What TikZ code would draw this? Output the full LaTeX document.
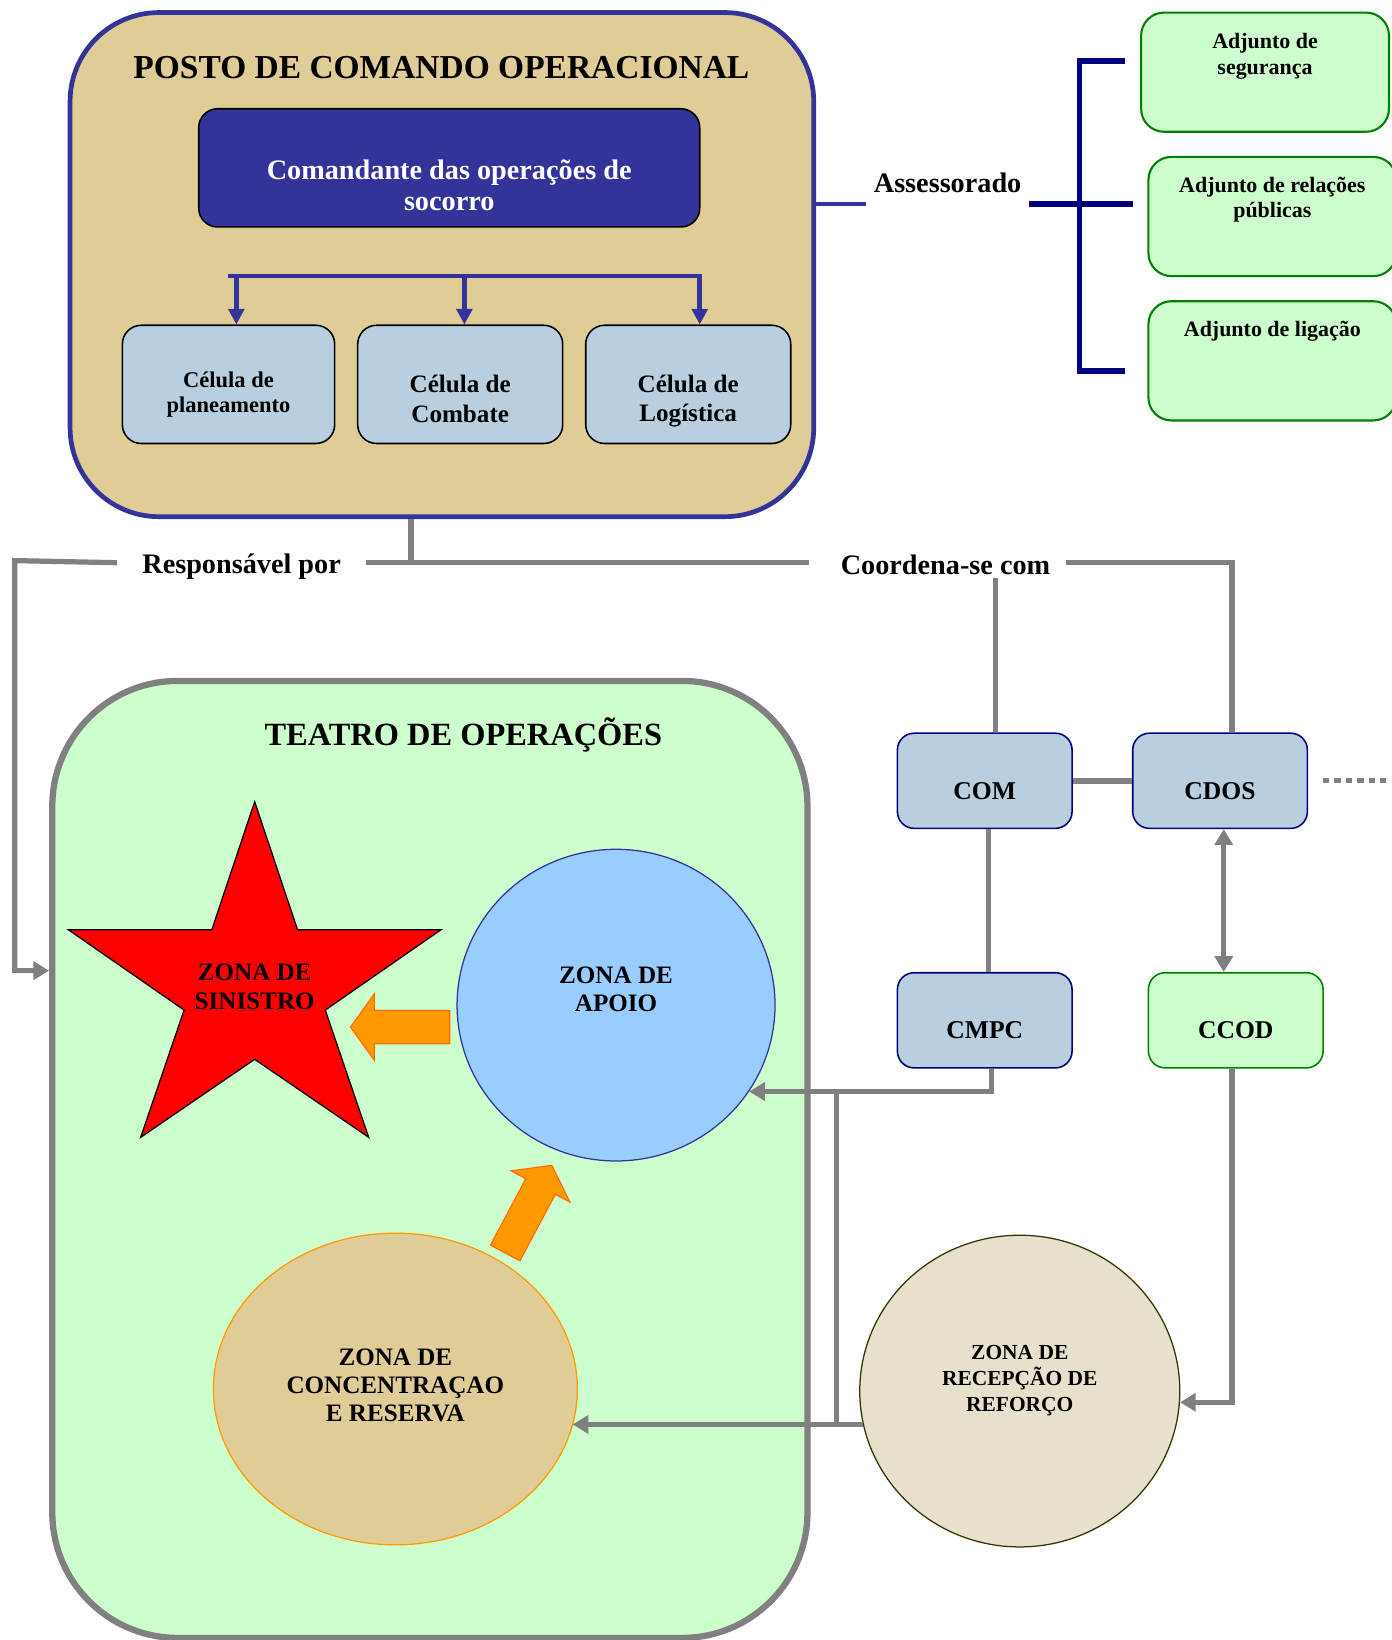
\documentclass[tikz,border=0pt]{standalone}
\usepackage{fontspec}
\setmainfont{Liberation Serif}
\usetikzlibrary{arrows.meta, positioning, shapes.geometric, calc}

\definecolor{pcoBlue}{RGB}{51,51,153}
\definecolor{pcoTan}{RGB}{224,204,150}
\definecolor{cellBlue}{RGB}{185,206,222}
\definecolor{zoneGreen}{RGB}{204,255,204}
\definecolor{adjEdge}{RGB}{0,128,0}
\definecolor{navy}{RGB}{0,0,128}
\definecolor{linkGray}{RGB}{128,128,128}
\definecolor{apoioBlue}{RGB}{153,204,255}
\definecolor{arrowOrange}{RGB}{255,153,0}
\definecolor{arrowEdge}{RGB}{255,102,0}
\definecolor{recepFill}{RGB}{230,224,204}
\definecolor{recepEdge}{RGB}{51,51,0}

\begin{document}
\begin{tikzpicture}[
    x=1pt, y=-1pt,
    pcoBox/.style = {
        draw=pcoBlue, line width=4.5pt, fill=pcoTan,
        rounded corners=85pt,
        minimum width=711pt, minimum height=482pt,
    },
    theatreBox/.style = {
        draw=linkGray, line width=6pt, fill=zoneGreen,
        rounded corners=120pt,
        minimum width=722pt, minimum height=915pt,
    },
    bigTitle/.style = {
        font=\fontsize{32}{38}\selectfont\bfseries,
    },
    cmdBox/.style = {
        draw=black, line width=1.5pt, fill=pcoBlue,
        rounded corners=18pt,
        minimum width=479pt, minimum height=113pt,
    },
    cmdText/.style = {
        text=white, align=center,
        font=\fontsize{27}{30}\selectfont\bfseries,
    },
    cellBox/.style = {
        draw=black, line width=1.5pt, fill=cellBlue,
        rounded corners=18pt,
        minimum width=196pt, minimum height=113pt,
    },
    cellText/.style = {
        align=center,
        font=\fontsize{24}{28}\selectfont\bfseries,
    },
    adjBox/.style = {
        draw=adjEdge, line width=2pt, fill=zoneGreen,
        rounded corners=22pt,
        minimum width=237pt, minimum height=114pt,
    },
    adjText/.style = {
        inner sep=0pt, align=center,
        font=\fontsize{21}{24}\selectfont\bfseries,
    },
    orgBox/.style = {
        draw=navy, line width=1.5pt, fill=cellBlue,
        rounded corners=16pt,
        minimum width=167pt, minimum height=91pt,
    },
    orgText/.style = {
        font=\fontsize{24.5}{28}\selectfont\bfseries,
    },
    linkLabel/.style = {
        inner xsep=24pt,
        font=\fontsize{27}{32}\selectfont\bfseries,
    },
    zoneShape/.style = {
        ellipse, line width=1.2pt,
    },
    zoneText/.style = {
        align=center,
        font=\fontsize{24}{27}\selectfont\bfseries,
    },
    pcoLine/.style = {
        draw=pcoBlue, line width=4.5pt,
    },
    cellArrow/.style = {
        pcoLine, -{Triangle[width=15pt, length=15pt]},
    },
    navyBar/.style = {
        draw=navy, line width=5.5pt,
    },
    linkLine/.style = {
        draw=linkGray, line width=5pt,
    },
    linkArrow/.style = {
        linkLine, -{Triangle[width=17pt, length=15pt]},
    },
    linkBoth/.style = {
        linkLine,
        {Triangle[width=17pt, length=15pt]}-{Triangle[width=17pt, length=15pt]},
    },
    zoneArrow/.style = {
        fill=arrowOrange, draw=arrowEdge, line width=1pt,
    },
]

\newcommand{\blockArrow}[2]{
    \draw[zoneArrow, shift={#1}, rotate=#2]
        (0,-16) -- (72,-16) -- (72,-32) -- (95,0)
        -- (72,32) -- (72,16) -- (0,16) -- cycle;
}

\useasboundingbox (0,0) rectangle (1330,1568);

% posto de comando
\node[pcoBox] (pco) at (422.5,253) {};
\node[bigTitle] (pcoTitle) at (422,65) {POSTO DE COMANDO OPERACIONAL};

\node[cmdBox] (cmd) at (429.5,160.5) {};
\node[cmdText, yshift=-16.5pt] (cmdLabel) at (cmd) {Comandante das operações de\\socorro};

\node[cellBox, minimum width=203pt] (celPlan) at (218.5,367.5) {};
\node[cellBox] (celComb) at (440,367.5) {};
\node[cellBox] (celLog) at (658,367.5) {};
\node[cellText, font=\fontsize{21.5}{24}\selectfont\bfseries, yshift=-9.5pt]
    (celPlanLabel) at (celPlan) {Célula de\\planeamento};
\node[cellText, yshift=-14pt] (celCombLabel) at (celComb) {Célula de\\Combate};
\node[cellText, yshift=-16pt] (celLogLabel) at (celLog) {Célula de\\Logística};

\coordinate (busL) at (220,264);
\coordinate (busR) at (669,264);
\draw[pcoLine, line cap=rect] (busL) -- (busR);
\foreach \x/\cell in {226/celPlan, 444/celComb, 669/celLog}
    \draw[cellArrow] (\x,264) -- (\x,0 |- \cell.north);

% assessores
\node[linkLabel, inner xsep=7pt] (assLabel) at (906,175) {Assessorado};
\coordinate (assHub) at (1032,195);
\coordinate (assEnd) at (1083,195);
\coordinate (brTop) at (1032,58);
\coordinate (brBot) at (1032,355);
\draw[pcoLine] (pco.east |- assHub) -- (assLabel.west |- assHub);
\draw[navyBar] (assLabel.east |- assHub) -- (assEnd);
\draw[navyBar] ($(brTop)+(44,0)$) -- (brTop) -- (brBot) -- ++(44,0);

\node[adjBox] (adjSeg) at (1209.5,69) {};
\node[adjBox] (adjRel) at (1216.5,207) {};
\node[adjBox] (adjLig) at (1216.5,345) {};
\node[adjText, below=21pt of adjSeg.north] (adjSegLabel) {Adjunto de\\segurança};
\node[adjText, below=20pt of adjRel.north] (adjRelLabel) {Adjunto de relações\\públicas};
\node[adjText, below=20pt of adjLig.north] (adjLigLabel) {Adjunto de ligação};

% teatro de operacoes
\node[theatreBox] (teatro) at (411,1108.5) {};
\node[bigTitle, font=\fontsize{31}{36}\selectfont\bfseries] (teatroTitle) at (443,703)
    {TEATRO DE OPERAÇÕES};

\draw[draw=black, line width=1.2pt, fill=red]
    (243.5,766.5) -- (284.5,889) -- (421.5,889) -- (311,965.7)
    -- (352.5,1087.4) -- (243.5,1012.8) -- (134.5,1087.4)
    -- (176,965.7) -- (65.5,889) -- (202.5,889) -- cycle;
\node[zoneText] (sinistroLabel) at (243.5,943.5) {ZONA DE\\SINISTRO};

\node[zoneShape, draw=pcoBlue, fill=apoioBlue,
    minimum width=304pt, minimum height=298pt] (apoio) at (589,961) {};
\node[zoneText] (apoioLabel) at (589,946) {ZONA DE\\APOIO};

\node[zoneShape, draw=arrowOrange, fill=pcoTan,
    minimum width=348pt, minimum height=298pt] (conc) at (378,1328) {};
\node[zoneText] (concLabel) at (378,1324.5) {ZONA DE\\CONCENTRAÇAO\\E RESERVA};

\blockArrow{(430,982)}{180}
\blockArrow{(483,1198)}{62}

\node[zoneShape, draw=recepEdge, fill=recepFill,
    minimum width=306pt, minimum height=298pt] (recep) at (975,1330) {};
\node[zoneText, font=\fontsize{20.5}{25}\selectfont\bfseries]
    (recepLabel) at (975,1320) {ZONA DE\\RECEPÇÃO DE\\REFORÇO};

% estruturas de coordenacao
\node[orgBox] (com) at (941.5,746.5) {};
\node[orgBox] (cdos) at (1166.5,746.5) {};
\node[orgBox] (cmpc) at (941.5,975.5) {};
\node[orgBox, draw=adjEdge, fill=zoneGreen] (ccod) at (1181.5,975.5) {};
\foreach \org/\txt in {com/COM, cdos/CDOS, cmpc/CMPC, ccod/CCOD}
    \node[orgText, yshift=-9.5pt] (\org Label) at (\org) {\txt};

% ligacoes
\node[linkLabel] (respLabel) at (231,542) {Responsável por};
\node[linkLabel, inner xsep=30pt] (coordLabel) at (904,540) {Coordena-se com};
\coordinate (respHub) at (393,538);
\coordinate (respCorner) at (14,536);
\draw[linkLine] (pco.south -| respHub) -- (respHub);
\draw[linkLine] (respLabel.east |- respHub) -- (coordLabel.west |- respHub);
\draw[linkArrow] (respLabel.west |- respHub) -- (respCorner)
    |- (teatro.west |- 0,928);

\draw[linkLine] ($(coordLabel.east |- respHub)+(-15,0)$) -| ($(cdos.north)+(11.5,0)$);
\draw[linkLine] ($(coordLabel.south)+(48,0)$) -- ($(com.north)+(10.5,0)$);

\draw[linkLine, line width=6pt] (com.east) -- (cdos.west);
\draw[linkLine, dash pattern=on 6pt off 5pt] ($(cdos.east)+(14,0)$) -- ++(60,0);
\draw[linkLine] ($(com.south)+(3.5,0)$) -- ($(cmpc.north)+(3.5,0)$);
\draw[linkBoth] ($(cdos.south)+(3.5,0)$) -- ($(cdos.south |- ccod.north)+(3.5,0)$);

\coordinate (relay) at (800,1200);
\draw[linkArrow] ($(cmpc.south)+(6.5,0)$) |- (apoio.-33);
\draw[linkLine] (relay |- apoio.-33) -- (relay |- recep.192);
\draw[linkArrow] (recep.192) -- (recep.192 -| conc.-12);
\draw[linkArrow] ($(ccod.south)+(-3.5,0)$) |- (recep.-4);

\end{tikzpicture}
\end{document}
